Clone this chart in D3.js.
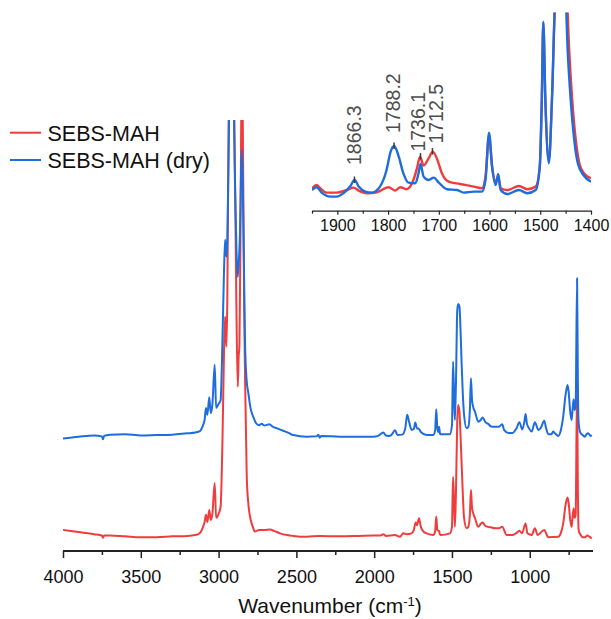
<!DOCTYPE html>
<html>
<head>
<meta charset="utf-8">
<script src="https://cdn.jsdelivr.net/npm/d3@7"></script>
<style>
  html, body { margin: 0; padding: 0; background: #fff; }
  svg { display: block; font-family: "Liberation Sans", Arial, Helvetica, sans-serif; }
</style>
</head>
<body>
<svg id="chart" width="611" height="619"></svg>
<script>
// ---- FTIR spectra: SEBS-MAH as received and after drying ----
const seriesNames = ["SEBS-MAH", "SEBS-MAH (dry)"];
const seriesColors = ["#ef3d3d", "#1d6ddd"];

// Full range spectra [wavenumber (cm-1), absorbance (a.u., stacked)]
const mahSpectrum = [
  [4000,0.049],[3900,0.044],[3800,0.039],[3750,0.036],[3743,0.031],[3736,0.036],[3700,0.036],
  [3600,0.034],[3500,0.032],[3400,0.032],[3300,0.034],[3200,0.035],[3150,0.037],[3120,0.042],
  [3100,0.056],[3090,0.067],[3081,0.084],[3072,0.067],[3060,0.095],[3050,0.072],[3040,0.086],
  [3025,0.158],[3016,0.077],[3000,0.086],[2987,0.103],[2975,0.258],[2965,0.466],[2958,0.544],
  [2950,0.474],[2944,0.582],[2937,0.930],[2925,1.30],[2910,1.25],[2895,0.884],[2886,0.582],
  [2877,0.381],[2871,0.451],[2866,0.478],[2860,0.698],[2855,0.977],[2849,1.15],[2843,0.930],
  [2836,0.582],[2830,0.404],[2819,0.172],[2808,0.107],[2798,0.080],[2780,0.056],[2766,0.045],
  [2740,0.049],[2705,0.049],[2670,0.050],[2640,0.046],[2605,0.041],[2560,0.037],[2520,0.035],
  [2434,0.033],[2350,0.035],[2220,0.034],[2100,0.035],[2006,0.036],[1960,0.036],[1941,0.039],
  [1925,0.035],[1866,0.037],[1834,0.033],[1813,0.041],[1790,0.039],[1760,0.041],[1745,0.049],
  [1733,0.066],[1725,0.060],[1712,0.076],[1700,0.056],[1680,0.044],[1663,0.041],[1620,0.037],
  [1608,0.046],[1601,0.080],[1594,0.049],[1583,0.046],[1576,0.037],[1513,0.041],[1500,0.056],
  [1493,0.172],[1486,0.107],[1481,0.056],[1474,0.142],[1466,0.304],[1460,0.339],[1452,0.323],
  [1445,0.269],[1438,0.203],[1430,0.130],[1423,0.080],[1406,0.053],[1395,0.056],[1385,0.084],
  [1378,0.142],[1371,0.100],[1362,0.086],[1352,0.076],[1331,0.056],[1315,0.063],[1303,0.066],
  [1285,0.058],[1267,0.056],[1250,0.055],[1224,0.053],[1200,0.053],[1177,0.056],[1149,0.037],
  [1110,0.037],[1085,0.042],[1067,0.047],[1050,0.041],[1027,0.064],[1015,0.041],[988,0.037],
  [967,0.053],[950,0.037],[907,0.049],[881,0.032],[817,0.033],[800,0.042],[785,0.064],
  [770,0.107],[757,0.124],[750,0.111],[740,0.072],[731,0.056],[725,0.077],[718,0.099],
  [712,0.077],[705,0.084],[696,0.385],[691,0.150],[686,0.049],[673,0.037],[660,0.032],
  [645,0.032],[630,0.036],[620,0.034],[602,0.029]
];

const mahDrySpectrum = [
  [4000,0.261],[3900,0.265],[3800,0.268],[3750,0.266],[3743,0.259],[3736,0.267],[3700,0.270],
  [3600,0.271],[3500,0.268],[3400,0.269],[3300,0.270],[3200,0.273],[3150,0.275],[3120,0.278],
  [3100,0.292],[3090,0.304],[3081,0.332],[3072,0.316],[3060,0.357],[3050,0.320],[3040,0.339],
  [3025,0.432],[3016,0.332],[3000,0.341],[2987,0.350],[2975,0.490],[2965,0.652],[2958,0.722],
  [2950,0.683],[2944,0.722],[2935,0.930],[2925,1.25],[2910,1.20],[2895,0.861],[2885,0.698],
  [2877,0.636],[2870,0.671],[2862,0.745],[2855,0.896],[2850,0.930],[2843,0.814],[2835,0.606],
  [2830,0.483],[2820,0.397],[2809,0.367],[2795,0.332],[2777,0.311],[2760,0.297],[2740,0.292],
  [2723,0.295],[2705,0.291],[2674,0.294],[2650,0.288],[2627,0.285],[2584,0.279],[2550,0.274],
  [2520,0.269],[2434,0.265],[2370,0.266],[2359,0.270],[2350,0.263],[2340,0.267],[2220,0.265],
  [2100,0.265],[2006,0.265],[1975,0.267],[1941,0.275],[1925,0.268],[1909,0.267],[1890,0.269],
  [1866,0.280],[1850,0.269],[1820,0.270],[1800,0.285],[1788,0.316],[1775,0.299],[1759,0.281],
  [1745,0.283],[1736,0.298],[1725,0.285],[1712,0.283],[1700,0.276],[1663,0.269],[1620,0.269],
  [1608,0.281],[1601,0.329],[1594,0.285],[1588,0.276],[1583,0.288],[1576,0.271],[1513,0.271],
  [1500,0.292],[1493,0.439],[1486,0.350],[1481,0.304],[1474,0.397],[1466,0.559],[1460,0.573],
  [1452,0.567],[1445,0.513],[1438,0.435],[1430,0.362],[1423,0.319],[1406,0.285],[1395,0.288],
  [1385,0.327],[1378,0.401],[1371,0.350],[1362,0.332],[1352,0.323],[1331,0.300],[1315,0.304],
  [1303,0.310],[1285,0.299],[1267,0.295],[1250,0.289],[1224,0.288],[1200,0.288],[1177,0.294],
  [1165,0.281],[1138,0.274],[1110,0.274],[1085,0.285],[1067,0.299],[1048,0.282],[1035,0.299],
  [1027,0.318],[1018,0.295],[1005,0.285],[988,0.277],[967,0.299],[945,0.281],[930,0.285],
  [907,0.302],[895,0.285],[881,0.271],[860,0.271],[850,0.277],[838,0.273],[817,0.267],
  [800,0.281],[785,0.312],[770,0.362],[757,0.385],[750,0.369],[740,0.323],[731,0.304],
  [725,0.327],[718,0.352],[712,0.327],[705,0.339],[696,0.633],[691,0.400],[687,0.304],
  [680,0.281],[673,0.273],[660,0.269],[645,0.265],[635,0.271],[624,0.273],[610,0.267],
  [602,0.269]
];

// Carbonyl region, 1950-1400 cm-1 (normalised, unstacked)
const mahCarbonyl = [
  [1950,0.108],[1941,0.125],[1934,0.109],[1921,0.087],[1901,0.087],[1881,0.100],[1868,0.112],
  [1858,0.097],[1842,0.084],[1822,0.089],[1799,0.114],[1786,0.097],[1776,0.114],[1764,0.104],
  [1750,0.150],[1743,0.210],[1737,0.267],[1730,0.222],[1720,0.259],[1712,0.292],[1704,0.259],
  [1694,0.184],[1681,0.142],[1658,0.130],[1631,0.117],[1615,0.109],[1608,0.167],[1601,0.370],
  [1595,0.217],[1588,0.142],[1583,0.163],[1578,0.109],[1565,0.100],[1542,0.120],[1526,0.104],
  [1509,0.117],[1501,0.217],[1497,0.550],[1494,0.935],[1490,0.550],[1483,0.250],[1477,0.550],
  [1470,1.10],[1460,1.30],[1450,1.20],[1443,0.800],[1437,0.550],[1430,0.350],[1423,0.234],
  [1414,0.184],[1400,0.159]
];

const mahDryCarbonyl = [
  [1950,0.100],[1941,0.114],[1931,0.087],[1914,0.067],[1901,0.067],[1888,0.084],[1875,0.117],
  [1866,0.150],[1858,0.117],[1845,0.092],[1832,0.087],[1816,0.117],[1803,0.200],[1795,0.292],
  [1788,0.320],[1779,0.267],[1770,0.184],[1760,0.137],[1746,0.134],[1740,0.184],[1736,0.230],
  [1730,0.167],[1720,0.150],[1710,0.162],[1700,0.137],[1684,0.104],[1664,0.100],[1651,0.087],
  [1631,0.092],[1615,0.092],[1608,0.150],[1601,0.387],[1595,0.217],[1588,0.125],[1583,0.180],
  [1578,0.100],[1565,0.080],[1542,0.100],[1526,0.084],[1509,0.100],[1501,0.217],[1497,0.550],
  [1494,0.942],[1490,0.550],[1483,0.234],[1477,0.550],[1470,1.10],[1460,1.30],[1452,1.20],
  [1446,0.800],[1440,0.550],[1433,0.350],[1426,0.234],[1415,0.175],[1400,0.142]
];

// Axis ticks
const mainTicks = [4000, 3500, 3000, 2500, 2000, 1500, 1000];
const mainMinorTicks = [3750, 3250, 2750, 2250, 1750, 1250, 750];
const insetTicks = [1900, 1800, 1700, 1600, 1500, 1400];
const insetMinorTicks = [1950, 1850, 1750, 1650, 1550, 1450];

// Labelled carbonyl bands in the inset
const peakLabels = ["1866.3", "1788.2", "1736.1", "1712.5"];
const peakWavenumbers = [1866.3, 1788.2, 1736.1, 1712.5];
const peakHeights = [0.150, 0.320, 0.267, 0.292];

// ---- layout ----
const svg = d3.select("#chart");
const font = '"Liberation Sans", Arial, Helvetica, sans-serif';

const x = d3.scaleLinear().domain([4000, 600]).range([63, 592]);
const y = d3.scaleLinear().domain([0, 1]).range([551, 120]);

const xi = d3.scaleLinear().domain([1950, 1400]).range([312, 591]);
const yi = d3.scaleLinear().domain([0, 1]).range([210, 10]);

const defs = svg.append("defs");
defs.append("clipPath").attr("id", "clipMain")
  .append("rect").attr("x", 60).attr("y", 120).attr("width", 536).attr("height", 431);
defs.append("clipPath").attr("id", "clipInset")
  .append("rect").attr("x", 312).attr("y", 12.5).attr("width", 279).attr("height", 198);

// ---- main spectra ----
const mainLine = d3.line().x(d => x(d[0])).y(d => y(d[1])).curve(d3.curveMonotoneX);
const gMain = svg.append("g").attr("clip-path", "url(#clipMain)");
[mahSpectrum, mahDrySpectrum].forEach((s, i) => {
  gMain.append("path").datum(s)
    .attr("d", mainLine)
    .attr("fill", "none")
    .attr("stroke", seriesColors[i])
    .attr("stroke-width", 2)
    .attr("stroke-linejoin", "round");
});

// main x axis
const gAxis = svg.append("g").attr("transform", "translate(0,551)");
gAxis.call(d3.axisBottom(x).tickValues(mainTicks).tickSize(7).tickSizeOuter(0).tickPadding(12)
  .tickFormat(d3.format("d")));
gAxis.select(".domain").attr("stroke", "#222").attr("stroke-width", 2)
  .attr("d", `M${x(4000)},0H${x(600) + 1}`);
gAxis.selectAll(".tick line").attr("stroke", "#222").attr("stroke-width", 1.5);
gAxis.selectAll(".tick text").attr("font-family", font).attr("font-size", 18).attr("fill", "#111");

const gMinor = svg.append("g").attr("transform", "translate(0,551)");
gMinor.call(d3.axisBottom(x).tickValues(mainMinorTicks).tickSize(4).tickSizeOuter(0).tickFormat(""));
gMinor.select(".domain").remove();
gMinor.selectAll(".tick line").attr("stroke", "#222").attr("stroke-width", 1.5);

// axis title
const title = svg.append("text")
  .attr("x", 330).attr("y", 613)
  .attr("text-anchor", "middle")
  .attr("font-family", font).attr("font-size", 21).attr("fill", "#111");
title.append("tspan").text("Wavenumber (cm");
title.append("tspan").attr("baseline-shift", "super").attr("font-size", 13).text("-1");
title.append("tspan").text(")");

// ---- legend ----
const legend = svg.append("g");
seriesNames.forEach((name, i) => {
  const ly = 132.7 + i * 27.3;
  legend.append("line")
    .attr("x1", 10).attr("x2", 41).attr("y1", ly).attr("y2", ly)
    .attr("stroke", seriesColors[i]).attr("stroke-width", 2);
  legend.append("text")
    .attr("x", 47.5).attr("y", ly + 8)
    .attr("font-family", font).attr("font-size", 21.5).attr("fill", "#111")
    .text(name);
});

// ---- inset: carbonyl region ----
const insetLine = d3.line().x(d => xi(d[0])).y(d => yi(d[1])).curve(d3.curveMonotoneX);
const gInset = svg.append("g").attr("clip-path", "url(#clipInset)");
[mahCarbonyl, mahDryCarbonyl].forEach((s, i) => {
  gInset.append("path").datum(s)
    .attr("d", insetLine)
    .attr("fill", "none")
    .attr("stroke", seriesColors[i])
    .attr("stroke-width", 2.4)
    .attr("stroke-linejoin", "round");
});

const gInsetAxis = svg.append("g").attr("transform", "translate(0,210.7)");
gInsetAxis.call(d3.axisBottom(xi).tickValues(insetTicks).tickSize(4).tickSizeOuter(0).tickPadding(5)
  .tickFormat(d3.format("d")));
gInsetAxis.select(".domain").attr("stroke", "#222").attr("stroke-width", 1.3);
gInsetAxis.selectAll(".tick line").attr("stroke", "#222").attr("stroke-width", 1.2);
gInsetAxis.selectAll(".tick text").attr("font-family", font).attr("font-size", 16).attr("fill", "#111");

const gInsetMinor = svg.append("g").attr("transform", "translate(0,210.7)");
gInsetMinor.call(d3.axisBottom(xi).tickValues(insetMinorTicks).tickSize(3).tickSizeOuter(0).tickFormat(""));
gInsetMinor.select(".domain").remove();
gInsetMinor.selectAll(".tick line").attr("stroke", "#222").attr("stroke-width", 1.2);

// peak markers and rotated labels (labels nudged apart where bands crowd)
const labelLift = [15, 13, 5, 8];
const labelShift = [0, -1, -3, 3.5];
const gPeaks = svg.append("g");
peakLabels.forEach((lab, i) => {
  const px = xi(peakWavenumbers[i]);
  const py = yi(peakHeights[i]);
  gPeaks.append("line")
    .attr("x1", px).attr("x2", px).attr("y1", py - 3.5).attr("y2", py + 3)
    .attr("stroke", "#3a3a3a").attr("stroke-width", 1.5);
  gPeaks.append("text")
    .attr("transform", `translate(${px + labelShift[i]},${py - labelLift[i]}) rotate(-90)`)
    .attr("dy", "0.36em")
    .attr("font-family", font).attr("font-size", 19.5).attr("fill", "#4d4d4d")
    .text(lab);
});
</script>
</body>
</html>
